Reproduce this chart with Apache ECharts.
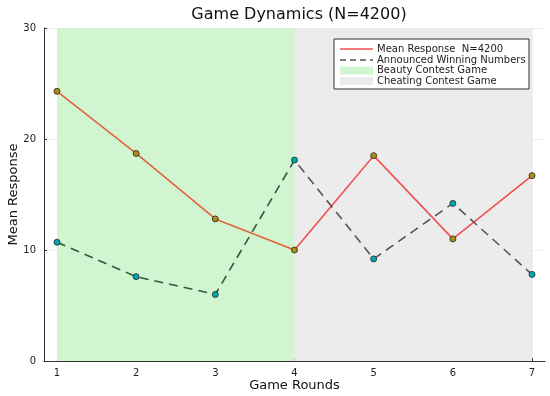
<!DOCTYPE html>
<html>
<head>
<meta charset="utf-8">
<script src="https://cdn.jsdelivr.net/npm/echarts@6/dist/echarts.min.js"></script>
<style>
  html, body { margin: 0; padding: 0; background: #fff; }
  #chart { width: 550px; height: 396px; }
</style>
</head>
<body>
<div id="chart"></div>
<script>
  var rounds = [1, 2, 3, 4, 5, 6, 7];
  var meanResponse = [24.3, 18.7, 12.8, 10.0, 18.5, 11.0, 16.7];
  var announced = [10.7, 7.6, 6.0, 18.1, 9.2, 14.2, 7.8];
  var yTicks = [0, 10, 20, 30];
  var beautyRange = [1, 4];
  var cheatingRange = [4, 7];
  var legendLabels = ['Mean Response  N=4200', 'Announced Winning Numbers', 'Beauty Contest Game', 'Cheating Contest Game'];

  var FONT = 'DejaVu Sans';

  function pairs(ys) {
    return rounds.map(function (x, i) { return [x, ys[i]]; });
  }

  //  line colour changes where it passes under the green band
  function splitColor(left, right) {
    return new echarts.graphic.LinearGradient(0, 0, 1, 0, [
      { offset: 0, color: left },
      { offset: 0.5, color: left },
      { offset: 0.5, color: right },
      { offset: 1, color: right }
    ]);
  }

  var chart = echarts.init(document.getElementById('chart'));

  //  legend box drawn by hand
  var lgX = 334, lgY = 39, rowY = [49, 60, 70.5, 81];
  var legendGraphic = [
    { type: 'rect', shape: { x: lgX, y: lgY, width: 195, height: 50 },
      style: { fill: '#fff', stroke: '#333', lineWidth: 1 }, z: 10 },
    { type: 'line', shape: { x1: 340, y1: rowY[0], x2: 373, y2: rowY[0] },
      style: { stroke: '#f05050', lineWidth: 1.5 }, z: 11 },
    { type: 'line', shape: { x1: 340, y1: rowY[1], x2: 373, y2: rowY[1] },
      style: { stroke: '#555', lineWidth: 1.5, lineDash: [6, 4] }, z: 11 },
    { type: 'rect', shape: { x: 340, y: rowY[2] - 4, width: 33, height: 8 },
      style: { fill: '#d0f5d0' }, z: 11 },
    { type: 'rect', shape: { x: 340, y: rowY[3] - 4, width: 33, height: 8 },
      style: { fill: '#ececec' }, z: 11 }
  ];
  legendLabels.forEach(function (t, i) {
    legendGraphic.push({
      type: 'text', x: 377, y: rowY[i], z: 11,
      style: { text: t, fill: '#222', font: '10px "' + FONT + '"', verticalAlign: 'middle' }
    });
  });

  var option = {
    animation: false,
    backgroundColor: '#fff',
    textStyle: { fontFamily: FONT },
    title: {
      text: 'Game Dynamics (N=4200)',
      left: 294, top: 2, textAlign: 'center',
      textStyle: { fontSize: 16, fontWeight: 'normal', color: '#111', fontFamily: FONT }
    },
    grid: { left: 44, right: 5, top: 28, bottom: 35, containLabel: false, outerBoundsMode: 'none' },
    xAxis: {
      type: 'value', min: 0.836, max: 7.164,
      name: 'Game Rounds', nameLocation: 'middle', nameGap: 18, nameMoveOverlap: false,
      nameTextStyle: { fontSize: 13, color: '#111' },
      axisLine: { show: true, lineStyle: { color: '#333', width: 1 } },
      axisTick: { show: true, inside: true, length: 3, customValues: rounds, lineStyle: { color: '#333' } },
      axisLabel: { customValues: rounds, fontSize: 10, color: '#222', margin: 7 },
      splitLine: { show: true, lineStyle: { color: 'rgba(0,0,0,0.06)', width: 1 } }
    },
    yAxis: {
      type: 'value', min: yTicks[0], max: yTicks[yTicks.length - 1], interval: 10,
      name: 'Mean Response', nameLocation: 'middle', nameGap: 24, nameMoveOverlap: false,
      nameTextStyle: { fontSize: 13, color: '#111' },
      axisLine: { show: true, lineStyle: { color: '#333', width: 1 } },
      axisTick: { show: true, inside: true, length: 3, lineStyle: { color: '#333' } },
      axisLabel: { fontSize: 10, color: '#222', margin: 8 },
      splitLine: { show: true, lineStyle: { color: 'rgba(0,0,0,0.06)', width: 1 } }
    },
    graphic: legendGraphic,
    series: [
      {
        name: legendLabels[0], type: 'line', data: pairs(meanResponse), z: 3,
        symbol: 'circle', symbolSize: 6,
        lineStyle: { width: 1.6, color: splitColor('#e2633e', '#f05050') },
        itemStyle: { color: '#ac8d18', borderColor: '#222', borderWidth: 0.8 },
        markArea: {
          silent: true,
          data: [
            [{ xAxis: beautyRange[0], itemStyle: { color: '#d0f5d0' } }, { xAxis: beautyRange[1] }],
            [{ xAxis: cheatingRange[0], itemStyle: { color: '#ececec' } }, { xAxis: cheatingRange[1] }]
          ]
        }
      },
      {
        name: legendLabels[1], type: 'line', data: pairs(announced), z: 3,
        symbol: 'circle', symbolSize: 6,
        lineStyle: { width: 1.6, type: [9, 6], color: splitColor('#2f5a3a', '#555555') },
        itemStyle: { color: '#00a9ad', borderColor: '#222', borderWidth: 0.8 }
      }
    ]
  };

  chart.setOption(option);
</script>
</body>
</html>
